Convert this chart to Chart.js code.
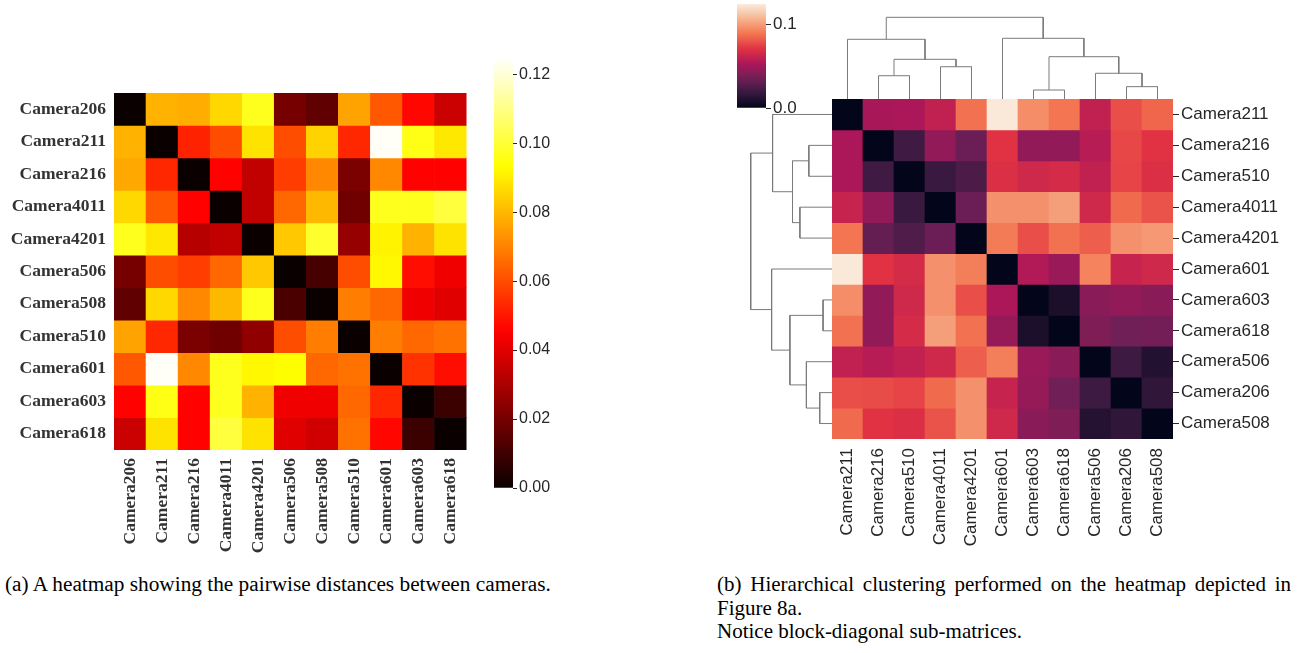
<!DOCTYPE html>
<html>
<head>
<meta charset="utf-8">
<script src="https://cdn.jsdelivr.net/npm/chart.js@4.4.1/dist/chart.umd.min.js"></script>
<style>
  body { margin: 0; background: #fff; width: 1306px; height: 653px; position: relative; overflow: hidden; }
  canvas { position: absolute; }
  .cap { position: absolute; font-family: 'Liberation Serif', 'Times New Roman', serif; font-size: 21px; color: #000; line-height: 23.5px; white-space: nowrap; }
  .just { text-align: justify; text-align-last: justify; white-space: normal; }
</style>
</head>
<body>
<canvas id="heatA" width="480" height="560" style="left:0;top:0"></canvas>
<canvas id="barA" width="100" height="560" style="left:480px;top:0"></canvas>
<canvas id="heatB" width="486" height="560" style="left:820px;top:0"></canvas>
<canvas id="barB" width="100" height="140" style="left:720px;top:-10px"></canvas>
<canvas id="dendroTop" width="341" height="99" style="left:832px;top:0"></canvas>
<canvas id="dendroLeft" width="92" height="340" style="left:740px;top:99px"></canvas>

<div class="cap" style="left:5px;top:573px;font-size:21.3px">(a) A heatmap showing the pairwise distances between cameras.</div>
<div class="cap" style="left:717px;top:573px;width:574px">
  <div class="just">(b) Hierarchical clustering performed on the heatmap depicted in</div>
  <div>Figure 8a.</div>
  <div>Notice block-diagonal sub-matrices.</div>
</div>

<script>
// pairwise distances, rows/cols in this order
var cameras = ['Camera206', 'Camera211', 'Camera216', 'Camera4011', 'Camera4201', 'Camera506',
               'Camera508', 'Camera510', 'Camera601', 'Camera603', 'Camera618'];
var distances = [
  [0.000, 0.079, 0.078, 0.086, 0.097, 0.020, 0.016, 0.076, 0.062, 0.047, 0.036],
  [0.079, 0.000, 0.052, 0.060, 0.088, 0.060, 0.085, 0.053, 0.124, 0.096, 0.089],
  [0.077, 0.053, 0.000, 0.046, 0.034, 0.057, 0.071, 0.021, 0.071, 0.046, 0.046],
  [0.086, 0.062, 0.046, 0.000, 0.034, 0.065, 0.080, 0.019, 0.097, 0.097, 0.101],
  [0.097, 0.089, 0.032, 0.034, 0.000, 0.083, 0.099, 0.026, 0.091, 0.079, 0.088],
  [0.020, 0.060, 0.057, 0.065, 0.083, 0.000, 0.011, 0.060, 0.092, 0.048, 0.043],
  [0.016, 0.086, 0.071, 0.080, 0.097, 0.012, 0.000, 0.069, 0.065, 0.043, 0.040],
  [0.076, 0.053, 0.021, 0.019, 0.025, 0.060, 0.069, 0.000, 0.069, 0.065, 0.067],
  [0.062, 0.124, 0.071, 0.097, 0.092, 0.093, 0.065, 0.067, 0.000, 0.055, 0.048],
  [0.046, 0.096, 0.046, 0.097, 0.079, 0.043, 0.043, 0.065, 0.053, 0.000, 0.009],
  [0.036, 0.088, 0.046, 0.101, 0.088, 0.040, 0.037, 0.067, 0.047, 0.009, 0.000]
];
// leaf order after clustering
var clusterOrder = ['Camera211', 'Camera216', 'Camera510', 'Camera4011', 'Camera4201', 'Camera601',
                    'Camera603', 'Camera618', 'Camera506', 'Camera206', 'Camera508'];
// linkage: [child a, child b, height]; ids < 11 are leaves (in clusterOrder), then new clusters 11, 12, ...
var linkage = [
  [6, 7, 0.110],
  [9, 10, 0.151],
  [1, 2, 0.285],
  [8, 12, 0.315],
  [3, 4, 0.395],
  [13, 15, 0.486],
  [11, 14, 0.518],
  [0, 16, 0.731],
  [5, 17, 0.743],
  [18, 19, 1.000]
];
var colorbarTicksA = [0, 0.02, 0.04, 0.06, 0.08, 0.10, 0.12];
var colorbarTicksB = [0, 0.1];
var vmax = 0.125;

function rgb(r, g, b) {
  return 'rgb(' + Math.round(r) + ',' + Math.round(g) + ',' + Math.round(b) + ')';
}

// matplotlib "hot"
function hot(t) {
  t = Math.max(0, Math.min(1, t));
  var r = t < 0.365079 ? 0.0416 + t / 0.365079 * 0.9584 : 1;
  var g = t < 0.365079 ? 0 : (t < 0.746032 ? (t - 0.365079) / 0.380953 : 1);
  var b = t < 0.746032 ? 0 : (t - 0.746032) / 0.253968;
  return rgb(r * 255, g * 255, b * 255);
}

// seaborn "rocket" (approx.)
var rocketStops = ['#03051a', '#35193e', '#701f57', '#ad1759', '#e13342', '#f37651', '#f6b48f', '#faebdd'];
function rocket(t) {
  t = Math.max(0, Math.min(1, t));
  var f = t * (rocketStops.length - 1);
  var i = Math.min(Math.floor(f), rocketStops.length - 2);
  var k = f - i;
  var a = rocketStops[i], b = rocketStops[i + 1];
  function c(s, o) { return parseInt(s.substr(o, 2), 16); }
  return rgb(c(a, 1) + (c(b, 1) - c(a, 1)) * k,
             c(a, 3) + (c(b, 3) - c(a, 3)) * k,
             c(a, 5) + (c(b, 5) - c(a, 5)) * k);
}

var serifBold = { family: "'Liberation Serif', 'Times New Roman', serif", size: 17.5, weight: 'bold' };
var sans = { family: "'Liberation Sans', Arial, sans-serif", size: 17 };
var sansSmall = { family: "'Liberation Sans', Arial, sans-serif", size: 16 };

function heatmap(id, labels, matrix, cmap, opt) {
  new Chart(document.getElementById(id), {
    type: 'bar',
    data: {
      labels: labels,
      datasets: labels.map(function (row, r) {
        return {
          label: row,
          data: labels.map(function () { return 1; }),
          backgroundColor: matrix[r].map(function (v) { return cmap(v / vmax); }),
          borderWidth: 0,
          barPercentage: 1,
          categoryPercentage: 1
        };
      })
    },
    options: {
      responsive: false,
      animation: false,
      layout: { padding: opt.padding },
      plugins: { legend: { display: false }, tooltip: { enabled: false } },
      scales: {
        x: {
          stacked: true,
          grid: { display: false, drawTicks: false },
          border: { display: false },
          ticks: { autoSkip: false, minRotation: 90, maxRotation: 90, padding: opt.xPad, color: opt.color, font: opt.font },
          afterFit: function (s) { s.height = opt.xHeight; }
        },
        y: {
          stacked: true,
          position: opt.yPos,
          min: 0,
          max: labels.length,
          reverse: true,
          grid: { display: opt.yTicks, drawTicks: opt.yTicks, drawOnChartArea: false, tickLength: 6, color: '#262626' },
          border: { display: false },
          afterBuildTicks: function (s) {
            s.ticks = labels.map(function (l, i) { return { value: i + 0.5 }; });
          },
          ticks: {
            callback: function (v, i) { return labels[i]; },
            padding: opt.yPad, color: opt.color, font: opt.font
          },
          afterFit: function (s) { s.width = opt.yWidth; }
        }
      }
    }
  });
}

function colorbar(id, cmap, ticks, decimals, opt) {
  new Chart(document.getElementById(id), {
    type: 'bar',
    data: {
      labels: [''],
      datasets: [{
        data: [[0, vmax]],
        backgroundColor: function (ctx) {
          var area = ctx.chart.chartArea;
          if (!area) return '#000';
          var g = ctx.chart.ctx.createLinearGradient(0, area.bottom, 0, area.top);
          for (var i = 0; i <= 64; i++) g.addColorStop(i / 64, cmap(i / 64));
          return g;
        },
        borderWidth: 0,
        barPercentage: 1,
        categoryPercentage: 1
      }]
    },
    options: {
      responsive: false,
      animation: false,
      layout: { padding: opt.padding },
      plugins: { legend: { display: false }, tooltip: { enabled: false } },
      scales: {
        x: { display: false },
        y: {
          position: 'right',
          min: 0,
          max: vmax,
          grid: { drawOnChartArea: false, tickLength: opt.tickLength, color: '#262626' },
          border: { display: false },
          afterBuildTicks: function (s) {
            s.ticks = ticks.map(function (v) { return { value: v }; });
          },
          ticks: {
            callback: function (v) { return v.toFixed(decimals); },
            padding: 2, color: '#262626', font: opt.font
          },
          afterFit: function (s) { s.width = opt.width; }
        }
      }
    }
  });
}

function dendrogram(id, horizontal, hMax) {
  var pos = [], hgt = [];
  clusterOrder.forEach(function (c, i) { pos.push(i + 0.5); hgt.push(0); });
  var sets = linkage.map(function (lk) {
    var a = lk[0], b = lk[1], h = lk[2];
    var pts = [[pos[a], hgt[a]], [pos[a], h], [pos[b], h], [pos[b], hgt[b]]];
    pos.push((pos[a] + pos[b]) / 2);
    hgt.push(h);
    return {
      data: pts.map(function (p) { return horizontal ? { x: p[1], y: p[0] } : { x: p[0], y: p[1] }; }),
      showLine: true,
      borderColor: '#7a7a7a',
      borderWidth: 1,
      pointRadius: 0,
      tension: 0,
      clip: false
    };
  });
  var n = clusterOrder.length;
  new Chart(document.getElementById(id), {
    type: 'scatter',
    data: { datasets: sets },
    options: {
      responsive: false,
      animation: false,
      layout: { padding: 0 },
      plugins: { legend: { display: false }, tooltip: { enabled: false } },
      scales: horizontal ? {
        x: { display: false, min: 0, max: hMax, reverse: true },
        y: { display: false, min: 0, max: n, reverse: true }
      } : {
        x: { display: false, min: 0, max: n },
        y: { display: false, min: 0, max: hMax }
      }
    }
  });
}

// (a) plain heatmap
heatmap('heatA', cameras, distances, hot, {
  padding: { left: 0, top: 93, right: 10, bottom: 0 },
  xHeight: 110, yWidth: 114, yPos: 'left', yTicks: false,
  xPad: 8, yPad: 8, color: '#333', font: serifBold
});
colorbar('barA', hot, colorbarTicksA, 2, {
  padding: { left: 14, top: 57, right: 0, bottom: 72 },
  width: 67, tickLength: 4, font: sansSmall
});

// (b) clustered heatmap
var idx = clusterOrder.map(function (c) { return cameras.indexOf(c); });
var clustered = idx.map(function (r) { return idx.map(function (c) { return distances[r][c]; }); });
heatmap('heatB', clusterOrder, clustered, rocket, {
  padding: { left: 12, top: 99, right: 0, bottom: 0 },
  xHeight: 121, yWidth: 133, yPos: 'right', yTicks: true,
  xPad: 9, yPad: 2, color: '#262626', font: sans
});
colorbar('barB', rocket, colorbarTicksB, 1, {
  padding: { left: 17, top: 14, right: 0, bottom: 22 },
  width: 54, tickLength: 5, font: sans
});
dendrogram('dendroTop', false, 1.212);
dendrogram('dendroLeft', true, 1.132);
</script>
</body>
</html>
